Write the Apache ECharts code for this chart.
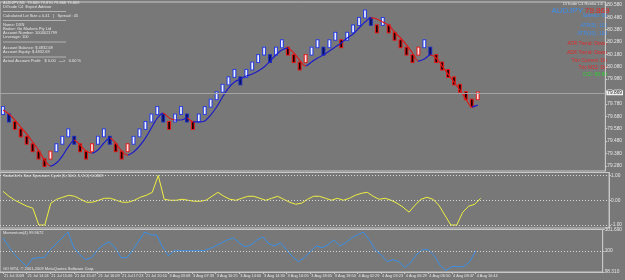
<!DOCTYPE html>
<html>
<head>
<meta charset="utf-8">
<script src="https://cdn.jsdelivr.net/npm/echarts@6/dist/echarts.min.js"></script>
<style>
  html, body { margin: 0; padding: 0; background: #787878; }
  #chart { width: 625px; height: 280px; }
</style>
</head>
<body>
<div id="chart"></div>
<script>
// ---- data ----
var timeLabels = ["21 Jul 2009", "21 Jul 14:24", "21 Jul 15:06", "21 Jul 15:47", "21 Jul 16:09",
  "21 Jul 17:23", "21 Jul 20:10", "3 Aug 03:08", "3 Aug 07:33", "3 Aug 10:25", "3 Aug 14:00",
  "3 Aug 14:30", "3 Aug 16:05", "3 Aug 18:05", "3 Aug 18:50", "4 Aug 02:29", "4 Aug 03:23",
  "4 Aug 06:29", "4 Aug 06:50", "4 Aug 08:47", "4 Aug 10:44"];

// B = up brick, N = down brick in up move, R = down brick, P = up brick in down move
var brickKind = ["B","N","R","R","R","R","R","R","P","B","B","B","N","R","R","P","B","B","N","R",
  "R","P","B","B","B","B","B","N","R","B","B","N","R","B","B","B","B","B","B","B",
  "N","B","B","B","B","N","B","B","R","R","R","P","B","B","N","B","B","R","B","B",
  "B","B","N","R","B","R","R","R","R","R","P","B","N","R","R","R","R","R","R","R","P"];

var brickOpen = [79.69,79.69,79.63,79.57,79.51,79.45,79.39,79.33,79.33,79.39,79.45,79.51,
  79.51,79.45,79.39,79.39,79.45,79.51,79.51,79.45,79.39,79.39,79.45,79.51,79.57,79.63,79.69,
  79.69,79.63,79.63,79.69,79.69,79.63,79.63,79.69,79.75,79.81,79.87,79.93,79.99,79.99,
  79.99,80.05,80.11,80.17,80.17,80.17,80.23,80.23,80.17,80.11,80.11,80.17,80.23,80.23,
  80.23,80.29,80.29,80.29,80.35,80.41,80.47,80.47,80.41,80.41,80.41,80.35,80.29,80.23,80.17,
  80.17,80.23,80.23,80.17,80.11,80.05,79.99,79.93,79.87,79.81,79.81];

var brickClose = [79.75,79.63,79.57,79.51,79.45,79.39,79.33,79.27,79.39,79.45,79.51,79.57,
  79.45,79.39,79.33,79.45,79.51,79.57,79.45,79.39,79.33,79.45,79.51,79.57,79.63,79.69,79.75,
  79.63,79.57,79.69,79.75,79.63,79.57,79.69,79.75,79.81,79.87,79.93,79.99,80.05,79.93,
  80.05,80.11,80.17,80.23,80.11,80.23,80.29,80.17,80.11,80.05,80.17,80.23,80.29,80.17,
  80.29,80.35,80.23,80.35,80.41,80.47,80.53,80.41,80.35,80.47,80.35,80.29,80.23,80.17,80.11,
  80.23,80.29,80.17,80.11,80.05,79.99,79.93,79.87,79.81,79.75,79.869];

var trendLine = [79.730,79.698,79.650,79.593,79.537,79.472,79.407,79.327,79.278,79.302,
  79.359,79.432,79.488,79.448,79.399,79.383,79.407,79.464,79.504,79.464,
  79.399,79.367,79.391,79.440,79.504,79.585,79.666,79.706,79.666,79.650,
  79.650,79.666,79.634,79.634,79.642,79.690,79.755,79.836,79.908,79.957,
  79.981,80.005,80.021,80.046,80.078,80.126,80.175,80.215,80.231,80.191,
  80.134,80.086,80.118,80.151,80.175,80.207,80.239,80.272,80.312,80.344,
  80.393,80.441,80.474,80.466,80.441,80.417,80.361,80.312,80.256,80.191,
  80.126,80.142,80.175,80.151,80.086,80.021,79.957,79.892,79.819,79.755,79.770];

var sineCycle = [0.36,0.16,0.00,-0.12,-0.24,-0.32,-1.00,-1.00,-0.12,0.04,
  0.12,0.20,0.16,0.04,-0.08,-0.08,0.00,0.08,0.08,0.00,
  -0.08,-0.08,0.00,0.12,0.20,0.32,1.00,0.04,0.00,0.00,
  0.04,0.00,-0.04,-0.04,0.00,0.16,0.32,0.16,0.04,0.00,
  0.08,0.16,0.16,0.08,0.00,0.08,0.16,0.04,-0.08,-0.16,
  -0.12,0.04,0.16,0.16,0.08,0.00,0.08,0.00,0.08,0.20,
  0.28,0.32,0.16,0.04,0.08,0.00,-0.12,-0.28,-0.48,-0.20,
  0.04,0.12,0.04,-0.20,-0.60,-1.00,-1.00,-0.48,-0.24,-0.16,0.08];

var momentum = [101.02,100.31,99.69,99.21,98.74,99.37,99.45,99.45,100.08,100.55,
  101.02,101.49,100.24,99.69,99.29,99.45,100.08,100.47,100.71,100.24,
  99.45,99.45,100.08,100.79,101.49,101.26,101.26,100.31,99.61,100.00,
  100.00,100.00,100.00,100.00,100.00,100.16,100.39,100.63,100.86,101.02,
  100.63,100.31,100.47,100.86,101.10,100.55,100.39,100.63,100.08,99.53,
  99.14,99.45,99.92,100.39,100.24,100.47,100.86,100.39,100.63,101.02,
  101.26,101.49,100.86,100.08,99.69,99.14,99.29,99.14,98.66,99.06,
  99.69,100.08,100.08,99.61,98.82,98.43,98.74,98.74,98.74,99.14,99.97];

var mainTicks = [79.28,79.38,79.48,79.58,79.68,79.78,79.88,79.98,80.08,80.18,80.28,80.38,80.48,80.58];
var sineTicks = [-1, 0, 1];
var momTicks = [98.31, 100, 101.69];
var lastPrice = 79.869;

// ---- chart ----
var SLOTS = 102;
var cats = [];
for (var i = 0; i < SLOTS; i++) cats.push(String(i));

var brickColors = {
  B: { edge: '#2b3fe0', core: '#eef2ff' },
  N: { edge: '#2030b8', core: '#0b1060' },
  R: { edge: '#e01818', core: '#1a0000' },
  P: { edge: '#e02424', core: '#ffe0e0' }
};

var bricks = brickOpen.map(function (o, i) { return [i, o, brickClose[i]]; });

function renderBrick(params, api) {
  var i = api.value(0);
  var hi = Math.max(api.value(1), api.value(2));
  var lo = Math.min(api.value(1), api.value(2));
  var top = api.coord([i, hi]);
  var bot = api.coord([i, lo]);
  var w = api.size([1, 0])[0] * 0.66;
  var c = brickColors[brickKind[params.dataIndex]];
  var x = top[0] - w / 2;
  var h = bot[1] - top[1];
  return {
    type: 'group',
    children: [
      { type: 'rect', shape: { x: x, y: top[1] - 1.5, width: w, height: h + 1.5 }, style: { fill: c.edge } },
      { type: 'rect', shape: { x: x + 1.1, y: top[1] - 0.5, width: w - 2.2, height: h - 0.5 }, style: { fill: c.core } }
    ]
  };
}

// trend colour pieces: blue when rising, red when falling
var trendPieces = [];
for (var k = 1; k < trendLine.length; k++) {
  trendPieces.push({
    gt: k - 1, lte: k,
    color: trendLine[k] >= trendLine[k - 1] ? '#1c1cc8' : '#d81c1c'
  });
}

var txt = '#e6e6e6';
var font = '"Liberation Sans", Arial, sans-serif';

function yAxisBase(gi, min, max, ticks, fmt) {
  return {
    type: 'value', gridIndex: gi, position: 'right', min: min, max: max,
    splitLine: { show: false },
    axisLine: { show: true, lineStyle: { color: '#c8c8c8' } },
    axisTick: { show: true, length: 2, lineStyle: { color: '#c8c8c8' }, customValues: ticks },
    axisLabel: { color: txt, fontSize: 4.8, fontFamily: font, margin: 2, customValues: ticks, formatter: fmt }
  };
}

function xAxisBase(gi, showLabels) {
  return {
    type: 'category', gridIndex: gi, data: cats, boundaryGap: true,
    axisLine: { show: showLabels, lineStyle: { color: '#c8c8c8' } },
    axisTick: {
      show: showLabels, alignWithLabel: true, length: 2, lineStyle: { color: '#c8c8c8' },
      interval: function (i) { return i % 4 === 0 && i / 4 < timeLabels.length; }
    },
    axisLabel: {
      show: showLabels, color: txt, fontSize: 3.9, fontFamily: font, margin: 2, align: 'left',
      padding: [0, 0, 0, 1],
      interval: function (i) { return i % 4 === 0 && i / 4 < timeLabels.length; },
      formatter: function (v, i) { return timeLabels[i / 4] || ''; }
    },
    splitLine: { show: false }
  };
}

function dotted(vals) {
  return {
    silent: true, symbol: 'none', label: { show: false },
    lineStyle: { color: '#d8d8d8', type: [1, 2], width: 1 },
    data: vals.map(function (v) { return { yAxis: v }; })
  };
}

var textLines = [
  ['AUDJPY,M1  79.869 79.870 79.868 79.869', 3],
  ['DiTrade C4  Expert Advisor', 7],
  ['Calculated Lot Size = 0.41   |   Spread : 45', 15.5],
  ['Name: DXN', 25],
  ['Broker: Go Markets Pty Ltd', 29],
  ['Account Number: 1000021799', 33],
  ['Leverage: 100', 37],
  ['Account Balance: $ 4832.69', 47.5],
  ['Account Equity: $ 4832.69', 52],
  ['Actual Account Profit:   $ 0.00   --->   0.00 %', 61]
];

var rightLines = [
  ['Spread: 65', 16, '#3c8ef0'],
  ['ATR(5): 115', 26, '#3c8ef0'],
  ['ATR(20): 120', 34, '#3c8ef0'],
  ['ATR Trend: Down', 44, '#e02828'],
  ['ADX Trend: Down', 53, '#e02828'],
  ['Trix Current: Dn', 61, '#e02828'],
  ['Trix M15: Dn', 68, '#e02828'],
  ['CCI: 65.80', 75, '#30d030']
];

var graphics = [];
textLines.forEach(function (t) {
  graphics.push({ type: 'text', left: 3, top: t[1] - 2,
    style: { text: t[0], fill: txt, fontSize: 4, fontFamily: font } });
});
[11.5, 20.5, 42, 57].forEach(function (y) {
  graphics.push({ type: 'line', shape: { x1: 3, y1: y, x2: 66, y2: y },
    style: { stroke: '#dcdcdc', lineWidth: 0.6 } });
});
rightLines.forEach(function (t) {
  graphics.push({ type: 'text', x: 607, y: t[1], style: { text: t[0], fill: t[2], fontSize: 5,
    fontFamily: font, align: 'right', verticalAlign: 'middle' } });
});
graphics.push({ type: 'text', x: 608, y: 3.5, style: { text: 'DiTrade C4 Renko 1.6 ☺', fill: txt,
  fontSize: 4, fontFamily: font, align: 'right', verticalAlign: 'middle' } });
graphics.push({ type: 'text', x: 583, y: 10.5, style: { text: 'AUDJPY', fill: '#3c8ef0',
  fontSize: 8, fontFamily: font, align: 'right', verticalAlign: 'middle' } });
graphics.push({ type: 'text', x: 585, y: 10.5, style: { text: '79.869', fill: '#e02828',
  fontSize: 8, fontFamily: font, align: 'left', verticalAlign: 'middle' } });
graphics.push({ type: 'text', left: 3, top: 173.5, style: {
  text: "TudorGirl's Sine Spectrum Cycle (5, 50.0, 5, 2.0): 0.0809", fill: txt, fontSize: 4, fontFamily: font } });
graphics.push({ type: 'text', left: 3, top: 231, style: {
  text: 'Momentum(4) 99.9672', fill: txt, fontSize: 4, fontFamily: font } });
graphics.push({ type: 'text', left: 3, top: 266.5, style: {
  text: 'GO MT4, \u00a9 2001-2009 MetaQuotes Software Corp.', fill: txt, fontSize: 4, fontFamily: font } });

var chart = echarts.init(document.getElementById('chart'));
chart.setOption({
  backgroundColor: '#787878',
  animation: false,
  grid: [
    { left: 0, right: 15, top: 2, height: 169, show: true, borderColor: '#c8c8c8', borderWidth: 1 },
    { left: 0, right: 15, top: 172.5, height: 55.5, show: true, borderColor: '#c8c8c8', borderWidth: 1 },
    { left: 0, right: 15, top: 229.5, height: 42.5, show: true, borderColor: '#c8c8c8', borderWidth: 1 }
  ],
  xAxis: [xAxisBase(0, false), xAxisBase(1, false), xAxisBase(2, true)],
  yAxis: [
    yAxisBase(0, 79.238, 80.603, mainTicks, function (v) { return v.toFixed(3); }),
    yAxisBase(1, -1.12, 1.12, sineTicks, function (v) { return v.toFixed(2); }),
    yAxisBase(2, 98.31, 101.69, momTicks, function (v) { return v === 100 ? '100' : v.toFixed(3); })
  ],
  visualMap: [{ show: false, type: 'piecewise', seriesIndex: 1, dimension: 0, pieces: trendPieces }],
  series: [
    {
      type: 'custom', xAxisIndex: 0, yAxisIndex: 0, renderItem: renderBrick,
      encode: { x: 0, y: [1, 2] }, data: bricks, z: 3,
      markLine: {
        silent: true, symbol: 'none',
        lineStyle: { color: '#a4a4a4', type: 'solid', width: 1 },
        label: { show: true, position: 'end', formatter: lastPrice.toFixed(3), color: '#202020',
          backgroundColor: '#f0f0f0', fontSize: 4.8, fontFamily: font, padding: [0, 1], distance: 1 },
        data: [{ yAxis: lastPrice }]
      }
    },
    {
      type: 'line', xAxisIndex: 0, yAxisIndex: 0, data: trendLine, showSymbol: false,
      smooth: 0.3, lineStyle: { width: 1.2 }, z: 4
    },
    {
      type: 'line', xAxisIndex: 1, yAxisIndex: 1, data: sineCycle, showSymbol: false,
      lineStyle: { color: '#f0f040', width: 1 }, itemStyle: { color: '#f0f040' },
      markLine: dotted(sineTicks)
    },
    {
      type: 'line', xAxisIndex: 2, yAxisIndex: 2, data: momentum, showSymbol: false,
      lineStyle: { color: '#3a90e8', width: 1 }, itemStyle: { color: '#3a90e8' },
      markLine: dotted([100])
    }
  ],
  graphic: graphics
});
</script>
</body>
</html>
